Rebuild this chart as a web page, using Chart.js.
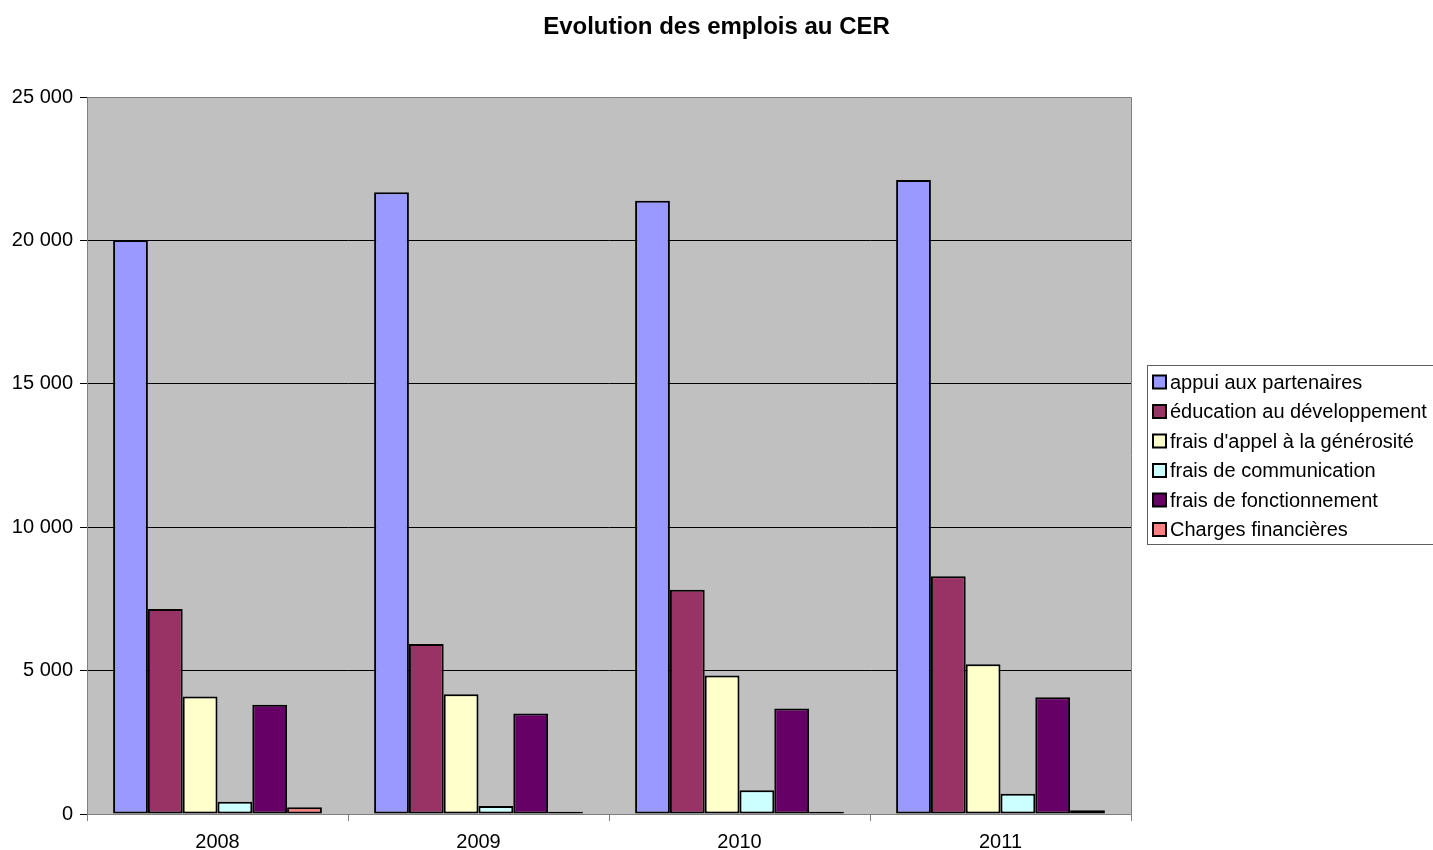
<!DOCTYPE html>
<html>
<head>
<meta charset="utf-8">
<title>Evolution des emplois au CER</title>
<script src="https://cdn.jsdelivr.net/npm/chart.js@4/dist/chart.umd.min.js"></script>
<style>
  body { margin: 0; background: #fff; }
  #wrap { width: 1433px; height: 850px; position: relative; }
</style>
</head>
<body>
<div id="wrap"><canvas id="emploisChart"></canvas></div>
<script>
// data
const chartTitle = 'Evolution des emplois au CER';
const years = ['2008', '2009', '2010', '2011'];
const appuiPartenaires = [20010, 21680, 21380, 22110];
const educationDev = [7145, 5925, 7815, 8290];
const fraisAppel = [4095, 4175, 4830, 5220];
const fraisCommunication = [430, 280, 825, 710];
const fraisFonctionnement = [3805, 3505, 3680, 4070];
const chargesFinancieres = [235, 80, 80, 130];
const yTicks = [0, 5000, 10000, 15000, 20000, 25000];

const FONT = '"Liberation Sans", Arial, sans-serif';

function fmt(v) {
  return String(v).replace(/\B(?=(\d{3})+(?!\d))/g, ' ');
}

// grey plot area + border, title centred on the whole picture
const plotArea = {
  id: 'plotArea',
  beforeDraw(chart) {
    const { ctx, chartArea: a } = chart;
    ctx.save();
    ctx.fillStyle = '#C0C0C0';
    ctx.fillRect(a.left, a.top, a.right - a.left, a.bottom - a.top);
    ctx.restore();
  },
  afterDraw(chart) {
    const { ctx, chartArea: a } = chart;
    ctx.save();
    ctx.strokeStyle = '#808080';
    ctx.lineWidth = 1;
    ctx.beginPath();
    ctx.moveTo(a.left, Math.round(a.top) + 0.5);
    ctx.lineTo(Math.round(a.right) + 0.5, Math.round(a.top) + 0.5);
    ctx.lineTo(Math.round(a.right) + 0.5, a.bottom);
    ctx.stroke();

    ctx.fillStyle = '#000';
    ctx.font = 'bold 24px ' + FONT;
    ctx.textAlign = 'center';
    ctx.textBaseline = 'middle';
    ctx.fillText(chartTitle, chart.width / 2, 27);
    ctx.restore();
  }
};

// boxed legend on the right, excel style
const boxLegend = {
  id: 'boxLegend',
  afterDraw(chart) {
    const ctx = chart.ctx;
    const sets = chart.data.datasets;
    const x0 = 1147, y0 = 365, rowH = 29.5;
    ctx.save();
    ctx.strokeStyle = '#606060';
    ctx.lineWidth = 1;
    ctx.strokeRect(x0 + 0.5, y0 + 0.5, 300, 179);
    ctx.font = '20px ' + FONT;
    ctx.textBaseline = 'middle';
    ctx.textAlign = 'left';
    sets.forEach((ds, i) => {
      const cy = y0 + 17 + i * rowH;
      ctx.fillStyle = ds.backgroundColor;
      ctx.fillRect(1153, cy - 6.5, 13, 13);
      ctx.strokeStyle = '#000';
      ctx.lineWidth = 2;
      ctx.strokeRect(1153, cy - 6.5, 13, 13);
      ctx.fillStyle = '#000';
      ctx.fillText(ds.label, 1170, cy + 1);
    });
    ctx.restore();
  }
};

function series(label, data, color) {
  return {
    label: label,
    data: data,
    backgroundColor: color,
    borderColor: '#000',
    borderWidth: 2,
    borderSkipped: false,
    categoryPercentage: 0.8,
    barPercentage: 1.0
  };
}

new Chart(document.getElementById('emploisChart'), {
  type: 'bar',
  data: {
    labels: years,
    datasets: [
      series('appui aux partenaires', appuiPartenaires, '#9999FF'),
      series('éducation au développement', educationDev, '#993366'),
      series("frais d'appel à la générosité", fraisAppel, '#FFFFCC'),
      series('frais de communication', fraisCommunication, '#CCFFFF'),
      series('frais de fonctionnement', fraisFonctionnement, '#660066'),
      series('Charges financières', chargesFinancieres, '#FF8080')
    ]
  },
  options: {
    responsive: true,
    maintainAspectRatio: false,
    animation: false,
    layout: { padding: { top: 97, right: 302, bottom: 0, left: 0 } },
    plugins: {
      legend: { display: false },
      tooltip: { enabled: false },
      title: { display: false }
    },
    scales: {
      x: {
        offset: true,
        grid: {
          offset: true,
          drawOnChartArea: false,
          drawTicks: true,
          tickLength: 7,
          color: '#808080'
        },
        border: { color: '#808080', width: 1 },
        ticks: {
          color: '#000',
          padding: 9,
          font: { family: FONT, size: 20 }
        },
        afterFit(s) { s.height = 36; }
      },
      y: {
        min: 0,
        max: 25000,
        afterBuildTicks(s) { s.ticks = yTicks.map(v => ({ value: v })); },
        grid: {
          color: c => (c.tick && c.tick.value === 25000 ? '#808080' : '#000'),
          tickColor: '#000',
          tickLength: 7,
          lineWidth: 1
        },
        border: { color: '#808080', width: 1 },
        ticks: {
          color: '#000',
          padding: 7,
          font: { family: FONT, size: 20 },
          callback: v => fmt(v)
        },
        afterFit(s) { s.width = 87; }
      }
    }
  },
  plugins: [plotArea, boxLegend]
});
</script>
</body>
</html>
